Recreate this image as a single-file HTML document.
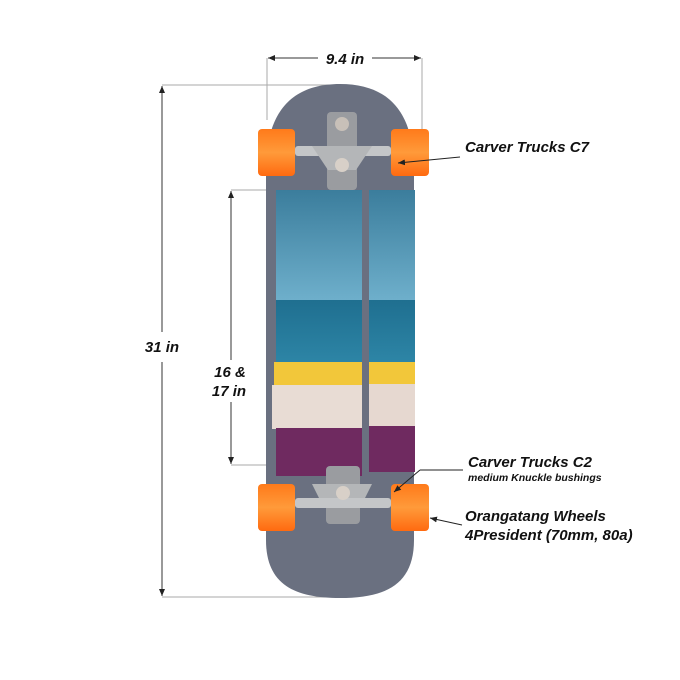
<!DOCTYPE html>
<html><head><style>
html,body{margin:0;padding:0;background:#fff;}
svg{display:block}
text{font-family:"Liberation Sans",Arial,sans-serif;font-weight:bold;font-style:italic;fill:#111}
</style></head><body>
<svg width="680" height="680" viewBox="0 0 680 680" xmlns="http://www.w3.org/2000/svg">
<defs>
<marker id="ar" markerWidth="8" markerHeight="8" refX="7" refY="4" orient="auto"><path d="M0,1 L7,4 L0,7 z" fill="#222"/></marker>
<marker id="al" markerWidth="8" markerHeight="8" refX="1" refY="4" orient="auto"><path d="M8,1 L1,4 L8,7 z" fill="#222"/></marker>
<linearGradient id="sky" x1="0" y1="0" x2="0" y2="1"><stop offset="0" stop-color="#3b7d9c"/><stop offset="1" stop-color="#6fb0cc"/></linearGradient>
<linearGradient id="sea" x1="0" y1="0" x2="0" y2="1"><stop offset="0" stop-color="#1f6f90"/><stop offset="1" stop-color="#2d85a6"/></linearGradient>
<linearGradient id="wh" x1="0" y1="0" x2="0" y2="1"><stop offset="0" stop-color="#ff7a1a"/><stop offset=".5" stop-color="#ff9a3a"/><stop offset="1" stop-color="#ff6a10"/></linearGradient>
</defs>
<g stroke="#aaa" stroke-width="1" fill="none">
<line x1="267" y1="58" x2="267" y2="120"/><line x1="422" y1="58" x2="422" y2="130"/>
<line x1="162" y1="85" x2="330" y2="85"/><line x1="162" y1="597" x2="330" y2="597"/>
<line x1="231" y1="190" x2="285" y2="190"/><line x1="231" y1="465" x2="285" y2="465"/>
</g>
<g stroke="#333" stroke-width="1" fill="none">
<line x1="268" y1="58" x2="318" y2="58" marker-start="url(#al)"/>
<line x1="372" y1="58" x2="421" y2="58" marker-end="url(#ar)"/>
<line x1="162" y1="86" x2="162" y2="332" marker-start="url(#al)"/>
<line x1="162" y1="362" x2="162" y2="596" marker-end="url(#ar)"/>
<line x1="231" y1="191" x2="231" y2="360" marker-start="url(#al)"/>
<line x1="231" y1="402" x2="231" y2="464" marker-end="url(#ar)"/>
</g>
<path d="M266,170 C266,120 285,84 340,84 C395,84 414,120 414,170 L414,540 C414,585 385,598 340,598 C295,598 266,585 266,540 Z" fill="#6a7080"/>
<rect x="276" y="190" width="86" height="112" fill="url(#sky)"/>
<rect x="276" y="300" width="86" height="63" fill="url(#sea)"/>
<rect x="274" y="362" width="88" height="24" fill="#f2c73a"/>
<rect x="272" y="385" width="90" height="44" fill="#e8dcd4"/>
<rect x="276" y="428" width="86" height="48" fill="#6f2a60"/>
<rect x="369" y="190" width="46" height="112" fill="url(#sky)"/>
<rect x="369" y="300" width="46" height="62" fill="url(#sea)"/>
<rect x="369" y="362" width="46" height="22" fill="#f2c73a"/>
<rect x="369" y="384" width="46" height="42" fill="#e6d8d0"/>
<rect x="369" y="426" width="46" height="46" fill="#6f2a60"/>
<rect x="327" y="112" width="30" height="78" rx="4" fill="#9a9ca0"/>
<circle cx="342" cy="124" r="7" fill="#c8c0b8"/>
<rect x="295" y="146" width="96" height="10" rx="3" fill="#c4c6c8"/>
<path d="M312,146 L372,146 L356,170 L328,170 Z" fill="#b4b6b8"/>
<circle cx="342" cy="165" r="7" fill="#d8d0c8"/>
<rect x="326" y="466" width="34" height="58" rx="4" fill="#9a9ca0"/>
<path d="M312,484 L372,484 L360,508 L324,508 Z" fill="#b4b6b8"/>
<rect x="295" y="498" width="96" height="10" rx="3" fill="#c4c6c8"/>
<circle cx="343" cy="493" r="7" fill="#d8d0c8"/>
<rect x="258" y="129" width="37" height="47" rx="4" fill="url(#wh)"/>
<rect x="391" y="129" width="38" height="47" rx="4" fill="url(#wh)"/>
<rect x="258" y="484" width="37" height="47" rx="4" fill="url(#wh)"/>
<rect x="391" y="484" width="38" height="47" rx="4" fill="url(#wh)"/>
<text x="345" y="64" font-size="15" text-anchor="middle">9.4 in</text>
<text x="162" y="352" font-size="15" text-anchor="middle">31 in</text>
<text x="230" y="377" font-size="15" text-anchor="middle">16 &amp;</text>
<text x="229" y="396" font-size="15" text-anchor="middle">17 in</text>
<text x="465" y="152" font-size="15">Carver Trucks C7</text>
<text x="468" y="467" font-size="15">Carver Trucks C2</text>
<text x="468" y="481" font-size="10.5">medium Knuckle bushings</text>
<text x="465" y="521" font-size="15">Orangatang Wheels</text>
<text x="465" y="540" font-size="15">4President (70mm, 80a)</text>
<g stroke="#222" stroke-width="1" fill="none">
<line x1="460" y1="157" x2="398" y2="163" marker-end="url(#ar)"/>
<line x1="463" y1="470" x2="420" y2="470"/>
<line x1="420" y1="470" x2="394" y2="492" marker-end="url(#ar)"/>
<line x1="462" y1="525" x2="430" y2="518" marker-end="url(#ar)"/>
</g>
</svg>
</body></html>
